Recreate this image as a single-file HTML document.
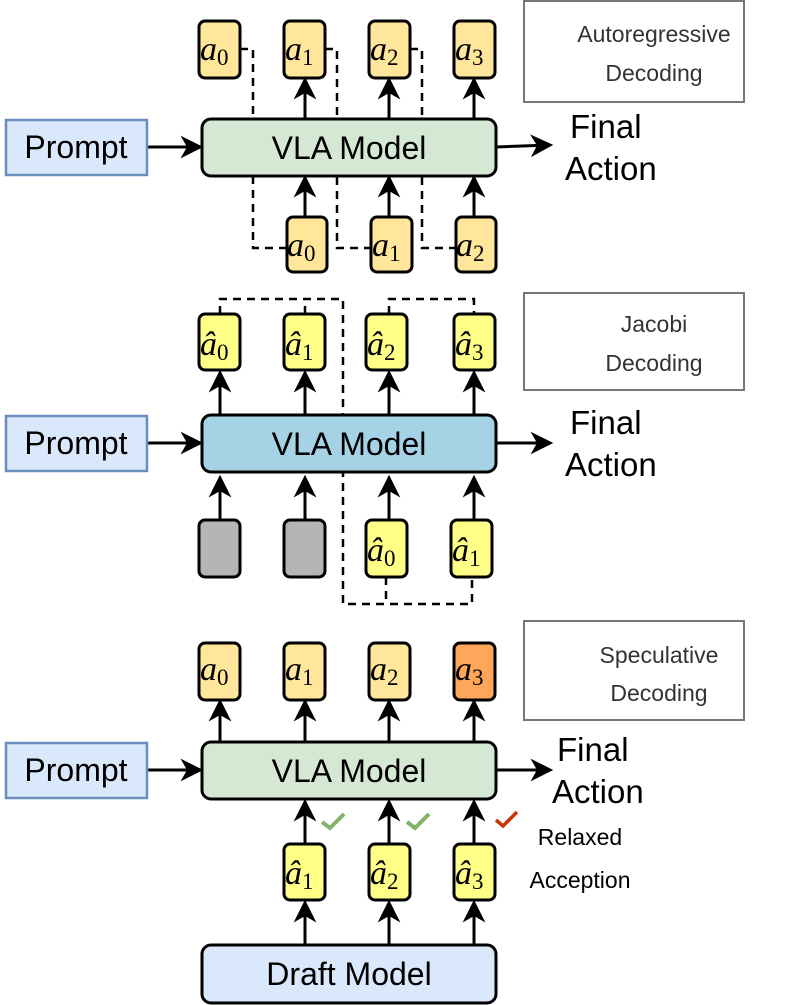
<!DOCTYPE html>
<html><head><meta charset="utf-8"><style>
body{margin:0;background:#fff;width:797px;height:1005px;overflow:hidden}
svg{display:block}
text{font-family:"Liberation Sans",sans-serif}
.m{font-family:"Liberation Serif",serif;font-style:italic;font-size:34px}
.s{font-family:"Liberation Serif",serif;font-style:normal;font-size:23px}
</style></head><body>
<svg width="797" height="1005" viewBox="0 0 797 1005">
<defs>
<marker id="au" viewBox="0 0 14 16" markerWidth="26" markerHeight="26" refX="12" refY="7" orient="auto" markerUnits="userSpaceOnUse"><path d="M0,0 L14,7 L0,14 L4,7 Z" fill="#000"/></marker>
</defs>
<g stroke="#000" stroke-width="3" fill="none">
<g stroke-dasharray="8,6" stroke-width="2.5">
<path d="M240,49 H253 V248 H287"/>
<path d="M325,49 H337 V248 H371"/>
<path d="M410,49 H422 V248 H456"/>
</g>
<line x1="147" y1="147" x2="200" y2="147" marker-end="url(#au)"/>
<line x1="496" y1="147" x2="550" y2="145" marker-end="url(#au)"/>
<line x1="305" y1="119" x2="305" y2="80" marker-end="url(#au)"/>
<line x1="389" y1="119" x2="389" y2="80" marker-end="url(#au)"/>
<line x1="474" y1="119" x2="474" y2="80" marker-end="url(#au)"/>
<line x1="305" y1="217" x2="305" y2="178" marker-end="url(#au)"/>
<line x1="389" y1="217" x2="389" y2="178" marker-end="url(#au)"/>
<line x1="474" y1="217" x2="474" y2="178" marker-end="url(#au)"/>
<rect x="6" y="120" width="141" height="55" fill="#dae8fc" stroke="#6c8ebf" stroke-width="2.5"/>
<rect x="202" y="119" width="294" height="57" rx="9" fill="#d5e8d4"/>
<rect x="199" y="21" width="41" height="57" rx="6" fill="#ffe69b"/>
<rect x="284" y="21" width="41" height="57" rx="6" fill="#ffe69b"/>
<rect x="369" y="21" width="41" height="57" rx="6" fill="#ffe69b"/>
<rect x="454" y="21" width="41" height="57" rx="6" fill="#ffe69b"/>
<rect x="287" y="217" width="40" height="55" rx="6" fill="#ffe69b"/>
<rect x="371" y="217" width="41" height="55" rx="6" fill="#ffe69b"/>
<rect x="456" y="217" width="40" height="55" rx="6" fill="#ffe69b"/>
<rect x="524" y="1" width="220" height="101" stroke="#777" stroke-width="2"/>
<g stroke-dasharray="8,6" stroke-width="2.5">
<path d="M220,314 V299 H343 V604 H472 V577"/>
<path d="M305,314 V299"/>
<path d="M389,314 V299 H474 V314"/>
<path d="M386,577 V604"/>
</g>
<line x1="147" y1="443" x2="200" y2="443" marker-end="url(#au)"/>
<line x1="496" y1="443" x2="550" y2="443" marker-end="url(#au)"/>
<line x1="220" y1="415" x2="220" y2="373" marker-end="url(#au)"/>
<line x1="305" y1="415" x2="305" y2="373" marker-end="url(#au)"/>
<line x1="389" y1="415" x2="389" y2="373" marker-end="url(#au)"/>
<line x1="474" y1="415" x2="474" y2="373" marker-end="url(#au)"/>
<line x1="220" y1="520" x2="220" y2="478" marker-end="url(#au)"/>
<line x1="305" y1="520" x2="305" y2="478" marker-end="url(#au)"/>
<line x1="389" y1="520" x2="389" y2="478" marker-end="url(#au)"/>
<line x1="474" y1="520" x2="474" y2="478" marker-end="url(#au)"/>
<rect x="6" y="416" width="141" height="55" fill="#dae8fc" stroke="#6c8ebf" stroke-width="2.5"/>
<rect x="202" y="415" width="294" height="57" rx="9" fill="#a6d2e6"/>
<rect x="199" y="314" width="41" height="56" rx="6" fill="#ffff88"/>
<rect x="284" y="314" width="41" height="56" rx="6" fill="#ffff88"/>
<rect x="366" y="314" width="41" height="56" rx="6" fill="#ffff88"/>
<rect x="454" y="314" width="41" height="56" rx="6" fill="#ffff88"/>
<rect x="199" y="520" width="41" height="57" rx="6" fill="#b5b5b5"/>
<rect x="284" y="520" width="41" height="57" rx="6" fill="#b5b5b5"/>
<rect x="366" y="520" width="41" height="57" rx="6" fill="#ffff88"/>
<rect x="451" y="520" width="41" height="57" rx="6" fill="#ffff88"/>
<rect x="524" y="293" width="220" height="97" stroke="#777" stroke-width="2"/>
<line x1="147" y1="770" x2="200" y2="770" marker-end="url(#au)"/>
<line x1="496" y1="770" x2="550" y2="770" marker-end="url(#au)"/>
<line x1="220" y1="742" x2="220" y2="702" marker-end="url(#au)"/>
<line x1="305" y1="742" x2="305" y2="702" marker-end="url(#au)"/>
<line x1="389" y1="742" x2="389" y2="702" marker-end="url(#au)"/>
<line x1="474" y1="742" x2="474" y2="702" marker-end="url(#au)"/>
<line x1="305" y1="843" x2="305" y2="802" marker-end="url(#au)"/>
<line x1="389" y1="843" x2="389" y2="802" marker-end="url(#au)"/>
<line x1="474" y1="843" x2="474" y2="802" marker-end="url(#au)"/>
<line x1="305" y1="945" x2="305" y2="903" marker-end="url(#au)"/>
<line x1="389" y1="945" x2="389" y2="903" marker-end="url(#au)"/>
<line x1="474" y1="945" x2="474" y2="903" marker-end="url(#au)"/>
<rect x="6" y="743" width="141" height="55" fill="#dae8fc" stroke="#6c8ebf" stroke-width="2.5"/>
<rect x="202" y="742" width="294" height="57" rx="9" fill="#d5e8d4"/>
<rect x="202" y="945" width="294" height="58" rx="9" fill="#dae8fc"/>
<rect x="199" y="643" width="41" height="57" rx="6" fill="#ffe69b"/>
<rect x="284" y="643" width="41" height="57" rx="6" fill="#ffe69b"/>
<rect x="369" y="643" width="41" height="57" rx="6" fill="#ffe69b"/>
<rect x="454" y="643" width="41" height="57" rx="6" fill="#ffa65a"/>
<rect x="284" y="844" width="41" height="56" rx="6" fill="#ffff88"/>
<rect x="369" y="844" width="41" height="56" rx="6" fill="#ffff88"/>
<rect x="454" y="844" width="41" height="56" rx="6" fill="#ffff88"/>
<rect x="524" y="621" width="220" height="99" stroke="#777" stroke-width="2"/>
<path d="M322,822 L330,828 L344,814" stroke="#82b366" stroke-width="4"/>
<path d="M407,822 L415,828 L429,814" stroke="#82b366" stroke-width="4"/>
<path d="M496,820 L503,826 L517,812" stroke="#cc3300" stroke-width="3.5"/>
</g>
<g font-size="32" text-anchor="middle" fill="#000">
<text x="76" y="158">Prompt</text><text x="349" y="159">VLA Model</text>
<text x="76" y="454">Prompt</text><text x="349" y="455">VLA Model</text>
<text x="76" y="781">Prompt</text><text x="349" y="782">VLA Model</text>
<text x="349" y="985">Draft Model</text>
</g>
<g font-size="33" fill="#000">
<text x="570" y="138">Final</text><text x="565" y="180">Action</text>
<text x="570" y="434">Final</text><text x="565" y="476">Action</text>
<text x="557" y="761">Final</text><text x="552" y="803">Action</text>
</g>
<g font-size="23" fill="#333" text-anchor="middle">
<text x="654" y="42">Autoregressive</text><text x="654" y="81">Decoding</text>
<text x="654" y="332">Jacobi</text><text x="654" y="371">Decoding</text>
<text x="659" y="663">Speculative</text><text x="659" y="701">Decoding</text>
</g>
<g font-size="23" fill="#000" text-anchor="middle">
<text x="580" y="845">Relaxed</text><text x="580" y="888">Acception</text>
</g>
<g fill="#000">
<text class="m" x="200" y="60">a<tspan class="s" dy="5">0</tspan></text>
<text class="m" x="285" y="60">a<tspan class="s" dy="5">1</tspan></text>
<text class="m" x="370" y="60">a<tspan class="s" dy="5">2</tspan></text>
<text class="m" x="455" y="60">a<tspan class="s" dy="5">3</tspan></text>
<text class="m" x="287" y="256">a<tspan class="s" dy="5">0</tspan></text>
<text class="m" x="372" y="256">a<tspan class="s" dy="5">1</tspan></text>
<text class="m" x="456" y="256">a<tspan class="s" dy="5">2</tspan></text>
<text class="m" x="200" y="355">â<tspan class="s" dy="5">0</tspan></text>
<text class="m" x="285" y="355">â<tspan class="s" dy="5">1</tspan></text>
<text class="m" x="367" y="355">â<tspan class="s" dy="5">2</tspan></text>
<text class="m" x="455" y="355">â<tspan class="s" dy="5">3</tspan></text>
<text class="m" x="367" y="561">â<tspan class="s" dy="5">0</tspan></text>
<text class="m" x="452" y="561">â<tspan class="s" dy="5">1</tspan></text>
<text class="m" x="200" y="680">a<tspan class="s" dy="5">0</tspan></text>
<text class="m" x="285" y="680">a<tspan class="s" dy="5">1</tspan></text>
<text class="m" x="370" y="680">a<tspan class="s" dy="5">2</tspan></text>
<text class="m" x="455" y="680">a<tspan class="s" dy="5">3</tspan></text>
<text class="m" x="285" y="884">â<tspan class="s" dy="5">1</tspan></text>
<text class="m" x="370" y="884">â<tspan class="s" dy="5">2</tspan></text>
<text class="m" x="455" y="884">â<tspan class="s" dy="5">3</tspan></text>
</g>
</svg>
</body></html>
